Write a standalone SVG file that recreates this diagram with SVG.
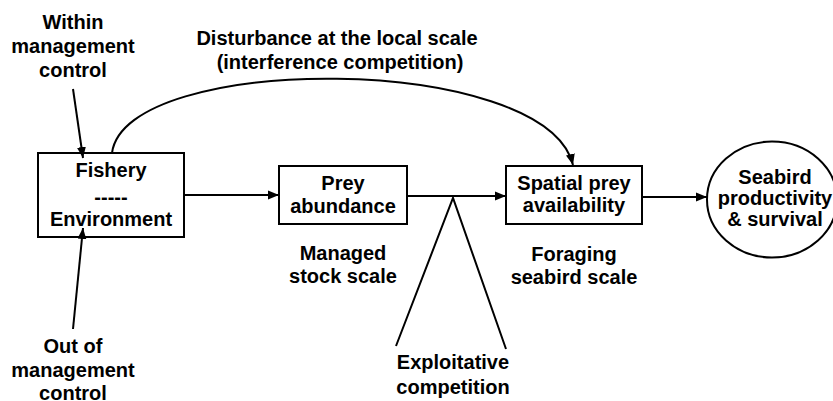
<svg xmlns="http://www.w3.org/2000/svg" width="833" height="401" viewBox="0 0 833 401">
<style>
  text { font-family: "Liberation Sans", Arial, sans-serif; font-weight: bold; font-size: 20px; fill: #000; text-anchor: middle; }
  .box { fill: #fff; stroke: #000; stroke-width: 2; }
  .ln { fill: none; stroke: #000; stroke-width: 2; }
</style>
<defs>
  <marker id="ah" markerUnits="userSpaceOnUse" markerWidth="12" markerHeight="12" viewBox="0 0 12 12" refX="11" refY="6" orient="auto">
    <path d="M0,1.5 L11,6 L0,10.5 Z" fill="#000"/>
  </marker>
</defs>
<rect width="833" height="401" fill="#fff"/>

<g id="fishery">
  <rect class="box" x="38" y="153" width="146" height="84"/>
  <text x="111" y="177">Fishery</text>
  <text x="111" y="204">-----</text>
  <text x="111" y="226">Environment</text>
</g>

<g id="prey">
  <rect class="box" x="279" y="166" width="128" height="58"/>
  <text x="343" y="190">Prey</text>
  <text x="343" y="213">abundance</text>
</g>

<g id="spatial">
  <rect class="box" x="506" y="166" width="136" height="58"/>
  <text x="574" y="190">Spatial prey</text>
  <text x="574" y="212">availability</text>
</g>

<g id="seabird">
  <ellipse class="box" cx="772" cy="199.5" rx="65" ry="58"/>
  <text x="775" y="184">Seabird</text>
  <text x="775" y="205">productivity</text>
  <text x="775" y="226">&amp; survival</text>
</g>

<g id="connectors">
  <line class="ln" x1="73" y1="89" x2="83" y2="158" marker-end="url(#ah)"/>
  <line class="ln" x1="73" y1="329" x2="83" y2="228" marker-end="url(#ah)"/>
  <path class="ln" d="M112,153 C125,52 545,52 573,165" marker-end="url(#ah)"/>
  <line class="ln" x1="184" y1="195" x2="279" y2="195" marker-end="url(#ah)"/>
  <line class="ln" x1="407" y1="196" x2="506" y2="196" marker-end="url(#ah)"/>
  <line class="ln" x1="642" y1="197" x2="707" y2="197" marker-end="url(#ah)"/>
  <polyline class="ln" points="396,346 453,198 506,349"/>
</g>

<g id="labels">
  <text x="73" y="29">Within</text>
  <text x="73" y="53">management</text>
  <text x="73" y="77">control</text>
  <text x="73" y="353">Out of</text>
  <text x="73" y="377">management</text>
  <text x="73" y="400">control</text>
  <text x="337" y="45">Disturbance at the local scale</text>
  <text x="340" y="69">(interference competition)</text>
  <text x="343" y="260">Managed</text>
  <text x="343" y="283">stock scale</text>
  <text x="574" y="261">Foraging</text>
  <text x="574" y="284">seabird scale</text>
  <text x="453" y="369">Exploitative</text>
  <text x="453" y="394">competition</text>
</g>
</svg>
